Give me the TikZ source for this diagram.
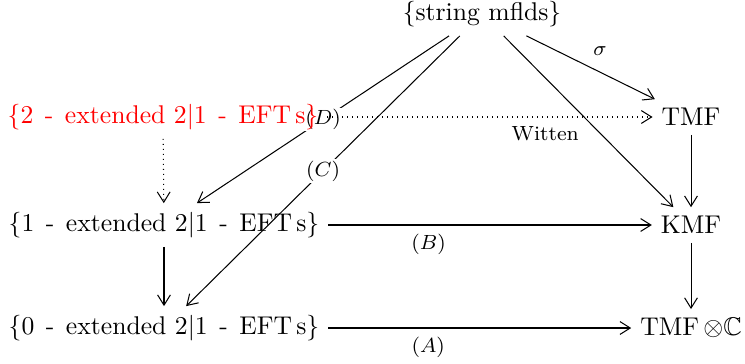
\documentclass[tikz,border=0pt]{standalone}
\usepackage{amssymb}
\usetikzlibrary{arrows.meta,backgrounds}

\newcommand{\dsh}{\hspace{0.45em}-\hspace{0.45em}}

\begin{document}
\begin{tikzpicture}[
    x=0.39pt, y=-0.39pt,
    >={Straight Barb[length=4pt,width=5pt]},
    lbl/.style={font=\footnotesize},
    cut/.style={font=\footnotesize, fill=white, inner sep=0.5pt},
    dots/.style={dash pattern=on 0.35pt off 1.6pt},
]
\useasboundingbox (0,0) rectangle (745,363);

% === objects ===
\node (str) at (482,14) {\{string mflds\}};
\node[text=red] (two) at (163,117) {\{2\dsh extended 2$|$1\dsh EFT\,s\}};
\node (one) at (164,225) {\{1\dsh extended 2$|$1\dsh EFT\,s\}};
\node (zero) at (164,328) {\{0\dsh extended 2$|$1\dsh EFT\,s\}};
\node (tmf) at (691,117) {TMF};
\node (kmf) at (691,225) {KMF};
\node (tmfc) at (691,328) {TMF\,$\otimes\mathbb{C}$};

% === arrows (behind the objects) ===
\begin{scope}[on background layer]
\draw[->] (str) -- node[lbl, above right, pos=0.45] {$\sigma$} (tmf);
\draw[->] (str) -- (kmf);
\draw[->] (str) -- node[cut, midway] {$(D)$} (one);
\draw[->] (str) -- node[cut, midway] {$(C)$} (zero);
\draw[->, dots] (two) -- node[lbl, below, pos=0.67] {Witten} (tmf);
\draw[->, dots] (two) -- (one);
\draw[->] (tmf) -- (kmf);
\draw[->] (one) -- node[lbl, below, pos=0.31] {$(B)$} (kmf);
\draw[->] (one) -- (zero);
\draw[->] (kmf) -- (tmfc);
\draw[->] (zero) -- node[lbl, below, pos=0.33] {$(A)$} (tmfc);
\end{scope}

\end{tikzpicture}
\end{document}
